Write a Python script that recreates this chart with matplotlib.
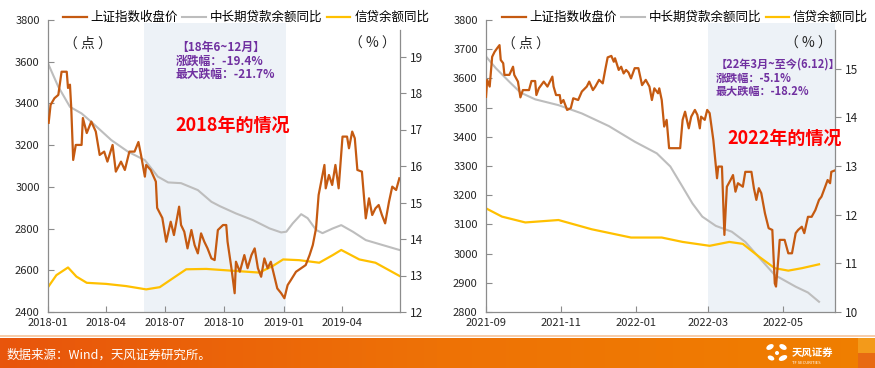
import numpy as np
import pandas as pd
import matplotlib
matplotlib.use("Agg")
import matplotlib.pyplot as plt
import matplotlib.dates as mdates
from matplotlib.patches import Rectangle, Ellipse
from matplotlib.lines import Line2D
from matplotlib.colors import LinearSegmentedColormap

plt.rcParams['font.family'] = ['Noto Sans CJK SC', 'DejaVu Sans']
plt.rcParams['axes.unicode_minus'] = False

W, H = 875, 368
ORANGE = '#C55A11'
GREY = '#BDBDBD'
YELLOW = '#FFC000'
SHADE = '#EDF2F7'
PURPLE = '#7030A0'
SPINE = '#8C8C8C'
LABELS = ['上证指数收盘价', '中长期贷款余额同比', '信贷余额同比']

# ---------------- 2018 panel ----------------
sh18_dates = ['2018-01-02', '2018-01-05', '2018-01-11', '2018-01-17', '2018-01-22', '2018-01-30',
              '2018-02-01', '2018-02-04', '2018-02-06', '2018-02-09', '2018-02-13', '2018-02-22',
              '2018-02-24', '2018-03-02', '2018-03-09', '2018-03-16', '2018-03-22', '2018-03-29',
              '2018-04-03', '2018-04-11', '2018-04-16', '2018-04-24', '2018-04-30', '2018-05-07',
              '2018-05-15', '2018-05-21', '2018-05-25', '2018-05-31', '2018-06-02', '2018-06-09',
              '2018-06-17', '2018-06-19', '2018-06-27', '2018-07-03', '2018-07-10', '2018-07-15',
              '2018-07-23', '2018-07-26', '2018-07-31', '2018-08-05', '2018-08-11', '2018-08-16',
              '2018-08-21', '2018-08-26', '2018-08-31', '2018-09-05', '2018-09-11', '2018-09-16',
              '2018-09-21', '2018-09-29', '2018-10-04', '2018-10-06', '2018-10-12', '2018-10-17',
              '2018-10-19', '2018-10-25', '2018-11-01', '2018-11-06', '2018-11-12', '2018-11-17',
              '2018-11-22', '2018-11-27', '2018-12-02', '2018-12-07', '2018-12-12', '2018-12-17',
              '2018-12-22', '2018-12-28', '2019-01-02', '2019-01-07', '2019-01-12', '2019-01-20',
              '2019-01-28', '2019-02-04', '2019-02-10', '2019-02-15', '2019-02-20', '2019-02-24',
              '2019-02-28', '2019-03-05', '2019-03-07', '2019-03-12', '2019-03-17', '2019-03-22',
              '2019-03-27', '2019-04-02', '2019-04-09', '2019-04-12', '2019-04-17', '2019-04-21',
              '2019-04-25', '2019-05-02', '2019-05-08', '2019-05-13', '2019-05-18', '2019-05-23',
              '2019-05-28', '2019-06-02', '2019-06-07', '2019-06-13', '2019-06-18', '2019-06-24',
              '2019-06-29']
sh18_close = [3307, 3393, 3425, 3441, 3552, 3552,
              3474, 3490, 3378, 3129, 3201, 3201,
              3330, 3258, 3313, 3265, 3153, 3169,
              3121, 3201, 3073, 3121, 3081, 3169,
              3169, 3215, 3153, 3049, 3105, 3081,
              3025, 2899, 2851, 2737, 2833, 2769,
              2905, 2817, 2785, 2705, 2793, 2721,
              2681, 2777, 2737, 2705, 2657, 2649,
              2793, 2817, 2817, 2737, 2610, 2490,
              2641, 2593, 2673, 2610, 2673, 2705,
              2610, 2569, 2657, 2610, 2641, 2577,
              2513, 2490, 2466, 2529, 2553, 2593,
              2610, 2625, 2673, 2721, 2801, 2961,
              3025, 3105, 2993, 3057, 3009, 3105,
              2993, 3241, 3241, 3185, 3265, 3233,
              3081, 3073, 2849, 2945, 2865, 2897,
              2913, 2865, 2825, 2929, 3001, 2985,
              3041]

mlt18_dates = ['2018-01-01', '2018-01-17', '2018-02-04', '2018-02-22', '2018-03-09', '2018-04-09',
               '2018-05-05', '2018-05-31', '2018-06-20', '2018-07-06', '2018-07-26', '2018-08-21',
               '2018-09-11', '2018-09-24', '2018-10-19', '2018-11-14', '2018-12-10', '2018-12-28',
               '2019-01-05', '2019-01-15', '2019-01-28', '2019-02-07', '2019-02-20', '2019-03-02',
               '2019-03-18', '2019-03-31', '2019-04-18', '2019-05-08', '2019-06-02', '2019-06-29']
mlt18_yoy = [18.81, 18.17, 17.62, 17.44, 17.21, 16.71,
             16.39, 16.16, 15.71, 15.55, 15.53, 15.34,
             15.02, 14.90, 14.70, 14.52, 14.29, 14.18,
             14.20, 14.43, 14.68, 14.57, 14.25, 14.16,
             14.29, 14.38, 14.20, 13.97, 13.84, 13.70]

cr18_dates = ['2018-01-01', '2018-01-14', '2018-02-01', '2018-02-14', '2018-03-02', '2018-04-01',
              '2018-05-02', '2018-06-02', '2018-06-23', '2018-07-13', '2018-08-03', '2018-09-03',
              '2018-10-14', '2018-11-24', '2018-12-15', '2018-12-31', '2019-01-25', '2019-02-25',
              '2019-03-18', '2019-03-31', '2019-04-28', '2019-05-23', '2019-06-29']
cr18_yoy = [12.68, 13.01, 13.22, 12.97, 12.80, 12.77,
            12.71, 12.62, 12.68, 12.92, 13.17, 13.18,
            13.13, 13.08, 13.26, 13.44, 13.42, 13.35,
            13.56, 13.70, 13.44, 13.35, 12.99]

# ---------------- 2022 panel ----------------
sh22_dates = ['2021-09-01', '2021-09-02', '2021-09-04', '2021-09-06', '2021-09-08', '2021-09-10',
              '2021-09-12', '2021-09-13', '2021-09-15', '2021-09-16', '2021-09-20', '2021-09-23',
              '2021-09-24', '2021-09-27', '2021-09-29', '2021-10-01', '2021-10-06', '2021-10-08',
              '2021-10-11', '2021-10-12', '2021-10-14', '2021-10-18', '2021-10-21', '2021-10-25',
              '2021-10-26', '2021-10-28', '2021-10-31', '2021-11-01', '2021-11-03', '2021-11-06',
              '2021-11-09', '2021-11-11', '2021-11-15', '2021-11-18', '2021-11-22', '2021-11-24',
              '2021-11-27', '2021-11-29', '2021-12-02', '2021-12-05', '2021-12-07', '2021-12-09',
              '2021-12-12', '2021-12-14', '2021-12-15', '2021-12-18', '2021-12-20', '2021-12-22',
              '2021-12-24', '2021-12-26', '2021-12-28', '2021-12-31', '2022-01-03', '2022-01-06',
              '2022-01-09', '2022-01-12', '2022-01-14', '2022-01-16', '2022-01-19', '2022-01-20',
              '2022-01-22', '2022-01-24', '2022-01-26', '2022-01-28', '2022-02-06', '2022-02-08',
              '2022-02-10', '2022-02-13', '2022-02-15', '2022-02-18', '2022-02-20', '2022-02-22',
              '2022-02-23', '2022-02-26', '2022-02-28', '2022-03-02', '2022-03-05', '2022-03-08',
              '2022-03-09', '2022-03-12', '2022-03-14', '2022-03-16', '2022-03-19', '2022-03-21',
              '2022-03-23', '2022-03-25', '2022-03-29', '2022-03-31', '2022-04-05', '2022-04-07',
              '2022-04-09', '2022-04-11', '2022-04-13', '2022-04-16', '2022-04-19', '2022-04-22',
              '2022-04-24', '2022-04-25', '2022-04-27', '2022-04-28', '2022-05-02', '2022-05-05',
              '2022-05-08', '2022-05-11', '2022-05-13', '2022-05-16', '2022-05-18', '2022-05-21',
              '2022-05-24', '2022-05-27', '2022-05-30', '2022-06-01', '2022-06-04', '2022-06-06',
              '2022-06-08', '2022-06-09', '2022-06-12']
sh22_close = [3537, 3595, 3572, 3674, 3691, 3703,
              3714, 3663, 3652, 3612, 3612, 3640,
              3612, 3589, 3535, 3560, 3560, 3591,
              3591, 3543, 3566, 3589, 3572, 3606,
              3572, 3543, 3543, 3515, 3526, 3492,
              3498, 3532, 3526, 3555, 3572, 3589,
              3560, 3572, 3595, 3583, 3629, 3672,
              3677, 3657, 3669, 3629, 3640, 3617,
              3629, 3620, 3600, 3635, 3635, 3577,
              3595, 3572, 3526, 3566, 3549, 3566,
              3526, 3435, 3458, 3361, 3361, 3458,
              3486, 3429, 3469, 3492, 3475, 3429,
              3469, 3458, 3492, 3481, 3389, 3258,
              3298, 3298, 3064, 3229, 3252, 3269,
              3212, 3241, 3229, 3280, 3280, 3224,
              3184, 3224, 3207, 3138, 3087, 3081,
              2898, 2887, 2989, 3047, 3047, 3001,
              3001, 3070, 3081, 3092, 3070, 3126,
              3126, 3149, 3184, 3195, 3229, 3252,
              3241, 3280, 3285]

mlt22_dates = ['2021-09-01', '2021-09-09', '2021-09-20', '2021-09-29', '2021-10-11', '2021-10-30',
               '2021-11-18', '2021-12-10', '2021-12-31', '2022-01-18', '2022-01-29', '2022-02-08',
               '2022-02-16', '2022-02-24', '2022-03-07', '2022-03-20', '2022-03-31', '2022-04-13',
               '2022-04-24', '2022-05-11', '2022-05-21', '2022-05-30']
mlt22_yoy = [15.25, 15.01, 14.73, 14.51, 14.37, 14.25,
             14.08, 13.82, 13.50, 13.26, 12.99, 12.57,
             12.23, 11.96, 11.77, 11.65, 11.44, 11.07,
             10.76, 10.52, 10.40, 10.21]

cr22_dates = ['2021-09-01', '2021-09-14', '2021-10-03', '2021-10-30', '2021-11-26', '2021-12-28',
              '2022-01-22', '2022-02-08', '2022-03-02', '2022-03-18', '2022-03-29', '2022-04-11',
              '2022-04-24', '2022-05-05', '2022-05-16', '2022-05-30']
cr22_yoy = [12.13, 11.96, 11.84, 11.89, 11.70, 11.53,
            11.53, 11.44, 11.36, 11.44, 11.40, 11.14,
            10.90, 10.85, 10.90, 10.98]


def fx(px):
    return px / W


def fy(py):
    return 1 - py / H


def draw_panel(left_px, right_px, sh_d, sh_v, ml_d, ml_v, cr_d, cr_v,
               xlim, xticks, ylim_l, yticks_l, ylim_r, yticks_r, r_top,
               shade, legend_x):
    rect = [fx(left_px), fy(312), fx(right_px - left_px), (312 - 20) / H]
    ax = fig.add_axes(rect)
    ax2 = ax.twinx()
    # index line drawn above the loan lines
    ax.set_zorder(ax2.get_zorder() + 1)
    ax.patch.set_visible(False)

    ax2.axvspan(pd.Timestamp(shade[0]), pd.Timestamp(shade[1]), ymin=0, ymax=0.99,
                color=SHADE, lw=0, zorder=0)
    l2, = ax2.plot(pd.to_datetime(ml_d), ml_v, color=GREY, lw=1.5, zorder=2)
    l3, = ax2.plot(pd.to_datetime(cr_d), cr_v, color=YELLOW, lw=1.6, zorder=2)
    l1, = ax.plot(pd.to_datetime(sh_d), sh_v, color=ORANGE, lw=1.6, zorder=3)

    ax.set_xlim(pd.Timestamp(xlim[0]), pd.Timestamp(xlim[1]))
    ax.set_ylim(*ylim_l)
    ax.set_yticks(yticks_l)
    ax2.set_ylim(*ylim_r)
    ax2.set_yticks(yticks_r)
    ax.set_xticks(pd.to_datetime(xticks))
    ax.xaxis.set_major_formatter(mdates.DateFormatter('%Y-%m'))

    for a in (ax, ax2):
        a.spines['top'].set_visible(False)
        for s in ('left', 'right', 'bottom'):
            a.spines[s].set_color(SPINE)
            a.spines[s].set_linewidth(0.9)
    ax.spines['right'].set_visible(False)
    ax2.spines['left'].set_visible(False)
    ax2.spines['bottom'].set_visible(False)
    ax2.spines['right'].set_bounds(ylim_r[0], r_top)

    ax.tick_params(axis='y', direction='in', length=4, labelsize=8, pad=6,
                   color=SPINE, labelcolor='#262626')
    ax.tick_params(axis='x', direction='in', length=4, labelsize=8, pad=4,
                   color=SPINE, labelcolor='#262626')
    ax2.tick_params(axis='y', direction='out', length=4, labelsize=8.5, pad=3,
                    color=SPINE, labelcolor='#262626')

    ax.legend([l1, l2, l3], LABELS, loc='center', bbox_to_anchor=(legend_x, 1.008),
              ncol=3, frameon=False, fontsize=9, handlelength=1.9, handletextpad=0.3,
              columnspacing=0.35, borderpad=0, borderaxespad=0)
    return ax, ax2


fig = plt.figure(figsize=(W / 100, H / 100), dpi=100)

draw_panel(48, 400, sh18_dates, sh18_close, mlt18_dates, mlt18_yoy, cr18_dates, cr18_yoy,
           ('2018-01-01', '2019-06-30'),
           ['2018-01-01', '2018-04-01', '2018-07-01', '2018-10-01', '2019-01-01', '2019-04-01'],
           (2400, 3800), [2400, 2600, 2800, 3000, 3200, 3400, 3600, 3800],
           (12, 20), [12, 13, 14, 15, 16, 17, 18, 19], 19.73,
           ('2018-05-29', '2019-01-05'), 0.5625)

draw_panel(486, 835, sh22_dates, sh22_close, mlt22_dates, mlt22_yoy, cr22_dates, cr22_yoy,
           ('2021-09-01', '2022-06-12'),
           ['2021-09-01', '2021-11-01', '2022-01-01', '2022-03-01', '2022-05-01'],
           (2800, 3800), [2800, 2900, 3000, 3100, 3200, 3300, 3400, 3500, 3600, 3700, 3800],
           (10, 16), [10, 11, 12, 13, 14, 15], 15.79,
           ('2022-03-01', '2022-06-12'), 0.570)

# unit labels
for x_px, s in [(88, '（ 点 ）'), (372, '（ % ）'), (526, '（ 点 ）'), (808, '（ % ）')]:
    fig.text(fx(x_px), fy(44), s, ha='center', va='center', fontsize=10, color='#262626')

# annotations
for y_px, s in [(47, '【18年6~12月】'), (61, '涨跌幅：-19.4%'), (74, '最大跌幅：-21.7%')]:
    fig.text(fx(176), fy(y_px), s, ha='left', va='center', fontsize=8.5,
             fontweight='bold', color=PURPLE)
for y_px, s in [(64, '【22年3月~至今(6.12)】'), (78, '涨跌幅：-5.1%'), (91, '最大跌幅：-18.2%')]:
    fig.text(fx(716), fy(y_px), s, ha='left', va='center', fontsize=8,
             fontweight='bold', color=PURPLE)

fig.text(fx(233), fy(125), '2018年的情况', ha='center', va='center', fontsize=13,
         fontweight='bold', color='#FF0000')
fig.text(fx(785), fy(138), '2022年的情况', ha='center', va='center', fontsize=13,
         fontweight='bold', color='#FF0000')

# footer band
fig.add_artist(Line2D([0, 1], [fy(336), fy(336)], color='#F6C39A', lw=1.2))
band = fig.add_axes([0, 0, 1, (368 - 338) / H])
grad = np.linspace(0, 1, 256).reshape(1, -1)
cmap = LinearSegmentedColormap.from_list('band', ['#E8550C', '#EE7206', '#F07F00'])
band.imshow(grad, aspect='auto', cmap=cmap, extent=(0, 1, 0, 1))
band.add_patch(Rectangle((858 / W, 0.5), 17 / W, 0.5, color='#F39A1A', lw=0))
band.add_patch(Rectangle((858 / W, 0), 17 / W, 0.5, color='#E86A12', lw=0))
band.set_xlim(0, 1)
band.set_ylim(0, 1)
band.axis('off')

fig.text(fx(7), fy(355), '数据来源：Wind，天风证券研究所。', ha='left', va='center',
         fontsize=9, color='white')

# logo
logo = fig.add_axes([fx(764), fy(366), fx(26), (366 - 340) / H])
logo.set_xlim(0, 26)
logo.set_ylim(0, 26)
logo.axis('off')
for (cx, cy, w, h, ang) in [(6, 19, 8, 5, 30), (19, 19, 8, 5, -30),
                            (7, 8, 7, 4.5, -25), (19, 8, 9, 5, 25), (13, 13, 4, 4, 0)]:
    logo.add_patch(Ellipse((cx, cy), w, h, angle=ang, color='white', lw=0))
fig.text(fx(792), fy(353), '天风证券', ha='left', va='center', fontsize=7.5,
         fontweight='bold', color='white')
fig.text(fx(792), fy(363), 'TF SECURITIES', ha='left', va='center', fontsize=3,
         color='white')

fig.savefig('out.png', dpi=100)
